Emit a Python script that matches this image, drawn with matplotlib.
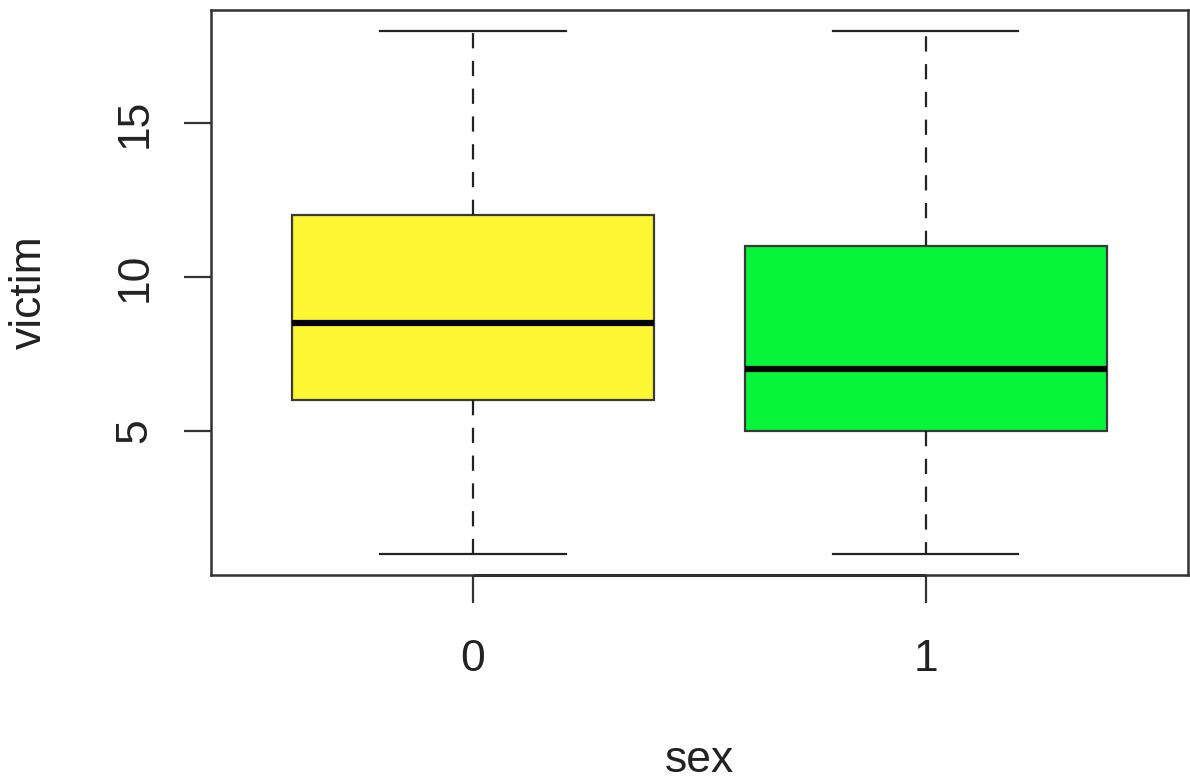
import matplotlib
matplotlib.use("Agg")
import matplotlib.pyplot as plt

# Summary statistics of victim count by sex
groups = ["0", "1"]
whisker_low = [1, 1]
q1 = [6, 5]
median = [8.5, 7]
q3 = [12, 11]
whisker_high = [18, 18]
fill_colors = ["#FDF633", "#06F53A"]

plt.rcParams["font.family"] = ["Liberation Sans", "DejaVu Sans"]
plt.rcParams["lines.scale_dashes"] = False

W, H = 1190, 780
fig = plt.figure(figsize=(W / 100, H / 100), dpi=100)
left, right, top, bottom = 210.5, 1188, 10, 574.5
ax = fig.add_axes([left / W, (H - bottom) / H, (right - left) / W, (bottom - top) / H])

stats = []
for i, g in enumerate(groups):
    stats.append(dict(label=g, whislo=whisker_low[i], q1=q1[i], med=median[i],
                      q3=q3[i], whishi=whisker_high[i], fliers=[]))

positions = list(range(1, len(groups) + 1))
bp = ax.bxp(stats, positions=positions, widths=0.8, patch_artist=True,
            showfliers=False,
            boxprops=dict(edgecolor="#3a3a3a", linewidth=1.6),
            medianprops=dict(color="black", linewidth=4.5, solid_capstyle="butt"),
            whiskerprops=dict(color="#222222", linewidth=1.6, linestyle=(0, (11, 9))),
            capprops=dict(color="#222222", linewidth=1.6),
            capwidths=0.41)
for patch, c in zip(bp["boxes"], fill_colors):
    patch.set_facecolor(c)

ax.set_xlim(0.42, 2.58)
ax.set_ylim(0.32, 18.68)

for s in ax.spines.values():
    s.set_color("#333333")
    s.set_linewidth(1.8)

fs = 32
ax.set_yticks([5, 10, 15])
ax.set_yticklabels(["5", "10", "15"], rotation=90, va="center", fontsize=fs, color="#222222")
ax.set_xticks(positions)
ax.set_xticklabels(groups, fontsize=fs, color="#222222")
ax.tick_params(axis="y", length=19.5, width=1.6, color="#333333", pad=20)
ax.tick_params(axis="x", length=20.5, width=1.6, color="#333333", pad=26)

# axis line spanning the group ticks
ax.plot([positions[0], positions[-1]], [0.32, 0.32], color="black", linewidth=2,
        clip_on=False, solid_capstyle="butt")

fig.text((left + right) / 2 / W, 8 / H, "sex", ha="center", va="baseline",
         fontsize=fs, color="#222222")
fig.text(29 / W, 1 - (top + bottom) / 2 / H, "victim", ha="center", va="center",
         rotation=90, fontsize=fs, color="#222222")

fig.savefig("out.png", dpi=100)
